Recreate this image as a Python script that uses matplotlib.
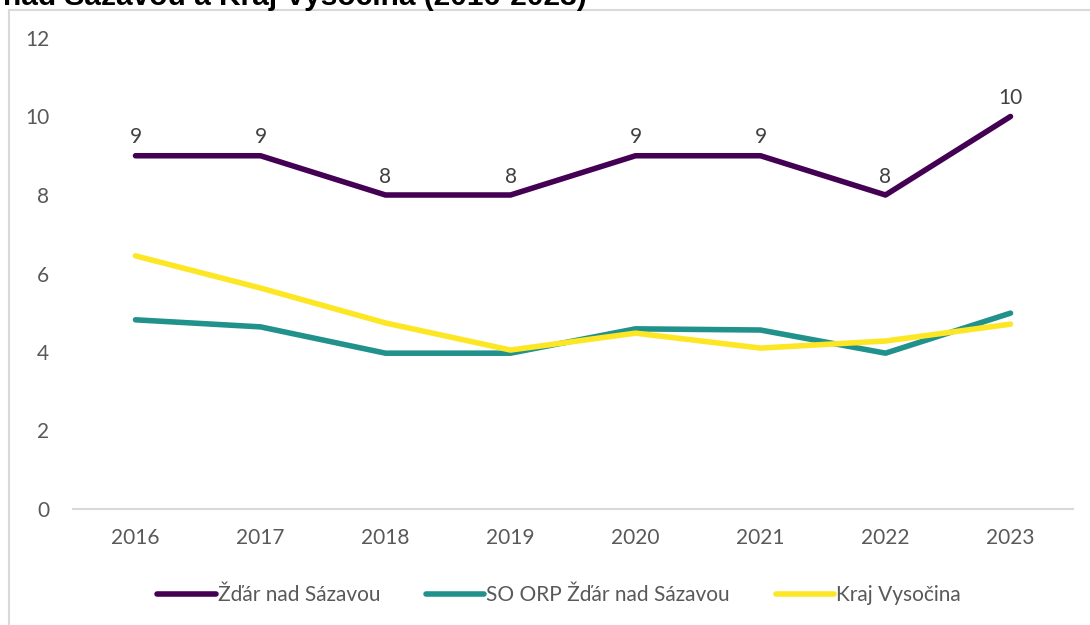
import matplotlib.pyplot as plt
from matplotlib.patches import Rectangle
import numpy as np

plt.rcParams['font.family'] = ['Lato', 'DejaVu Sans']

years = ['2016', '2017', '2018', '2019', '2020', '2021', '2022', '2023']
zdar = [9, 9, 8, 8, 9, 9, 8, 10]
so_orp = [4.82, 4.64, 3.97, 3.97, 4.59, 4.56, 3.97, 4.99]
kraj = [6.45, 5.63, 4.74, 4.05, 4.48, 4.10, 4.28, 4.71]

labels = ['Žďár nad Sázavou', 'SO ORP Žďár nad Sázavou', 'Kraj Vysočina']
colors = ['#440154', '#21918c', '#fde725']

fig = plt.figure(figsize=(10.9, 6.25), dpi=100)
ax = fig.add_axes([73 / 1090, 116 / 625, 1000 / 1090, 471 / 625])

# outer chart border (cut off on the right and bottom)
fig.patches.append(Rectangle((9 / 1090, -0.1), 1.2, 1 - 10 / 625 + 0.1,
                             transform=fig.transFigure, fill=False,
                             edgecolor='#d9d9d9', linewidth=1.5))

x = np.arange(len(years))
ax.plot(x, zdar, color=colors[0], lw=4, solid_capstyle='round', label=labels[0], zorder=3)
ax.plot(x, so_orp, color=colors[1], lw=4, solid_capstyle='round', label=labels[1], zorder=2)
ax.plot(x, kraj, color=colors[2], lw=4, solid_capstyle='round', label=labels[2], zorder=2)

for xi, v in zip(x, zdar):
    ax.annotate(f'{v}', xy=(xi, v), xytext=(0, 6), textcoords='offset points',
                ha='center', va='bottom', fontsize=15, color='#404040')

ax.set_xlim(-0.5, len(years) - 0.5)
ax.set_ylim(0, 12)
ax.set_yticks(range(0, 13, 2))
ax.set_xticks(x)
ax.set_xticklabels(years)
ax.tick_params(axis='both', length=0, labelsize=15, labelcolor='#595959')
ax.tick_params(axis='y', pad=17)
ax.tick_params(axis='x', pad=14)

for side in ['top', 'right', 'left']:
    ax.spines[side].set_visible(False)
ax.spines['bottom'].set_color('#d9d9d9')
ax.spines['bottom'].set_linewidth(1.5)

leg = fig.legend(loc='center', bbox_to_anchor=(0.513, 0.048), ncol=3, frameon=False,
                 fontsize=15, handlelength=2.8, handletextpad=0.1, columnspacing=2.2)
for t in leg.get_texts():
    t.set_color('#595959')

# title, partly cut off at the top as in the source
fig.text(3 / 1090, 1 - 5 / 625, 'nad Sázavou a Kraj Vysočina (2016-2023)',
         fontsize=21.5, fontweight='bold', family=['Liberation Sans', 'DejaVu Sans'],
         ha='left', va='baseline', color='black')

fig.savefig('out.png', dpi=100)
